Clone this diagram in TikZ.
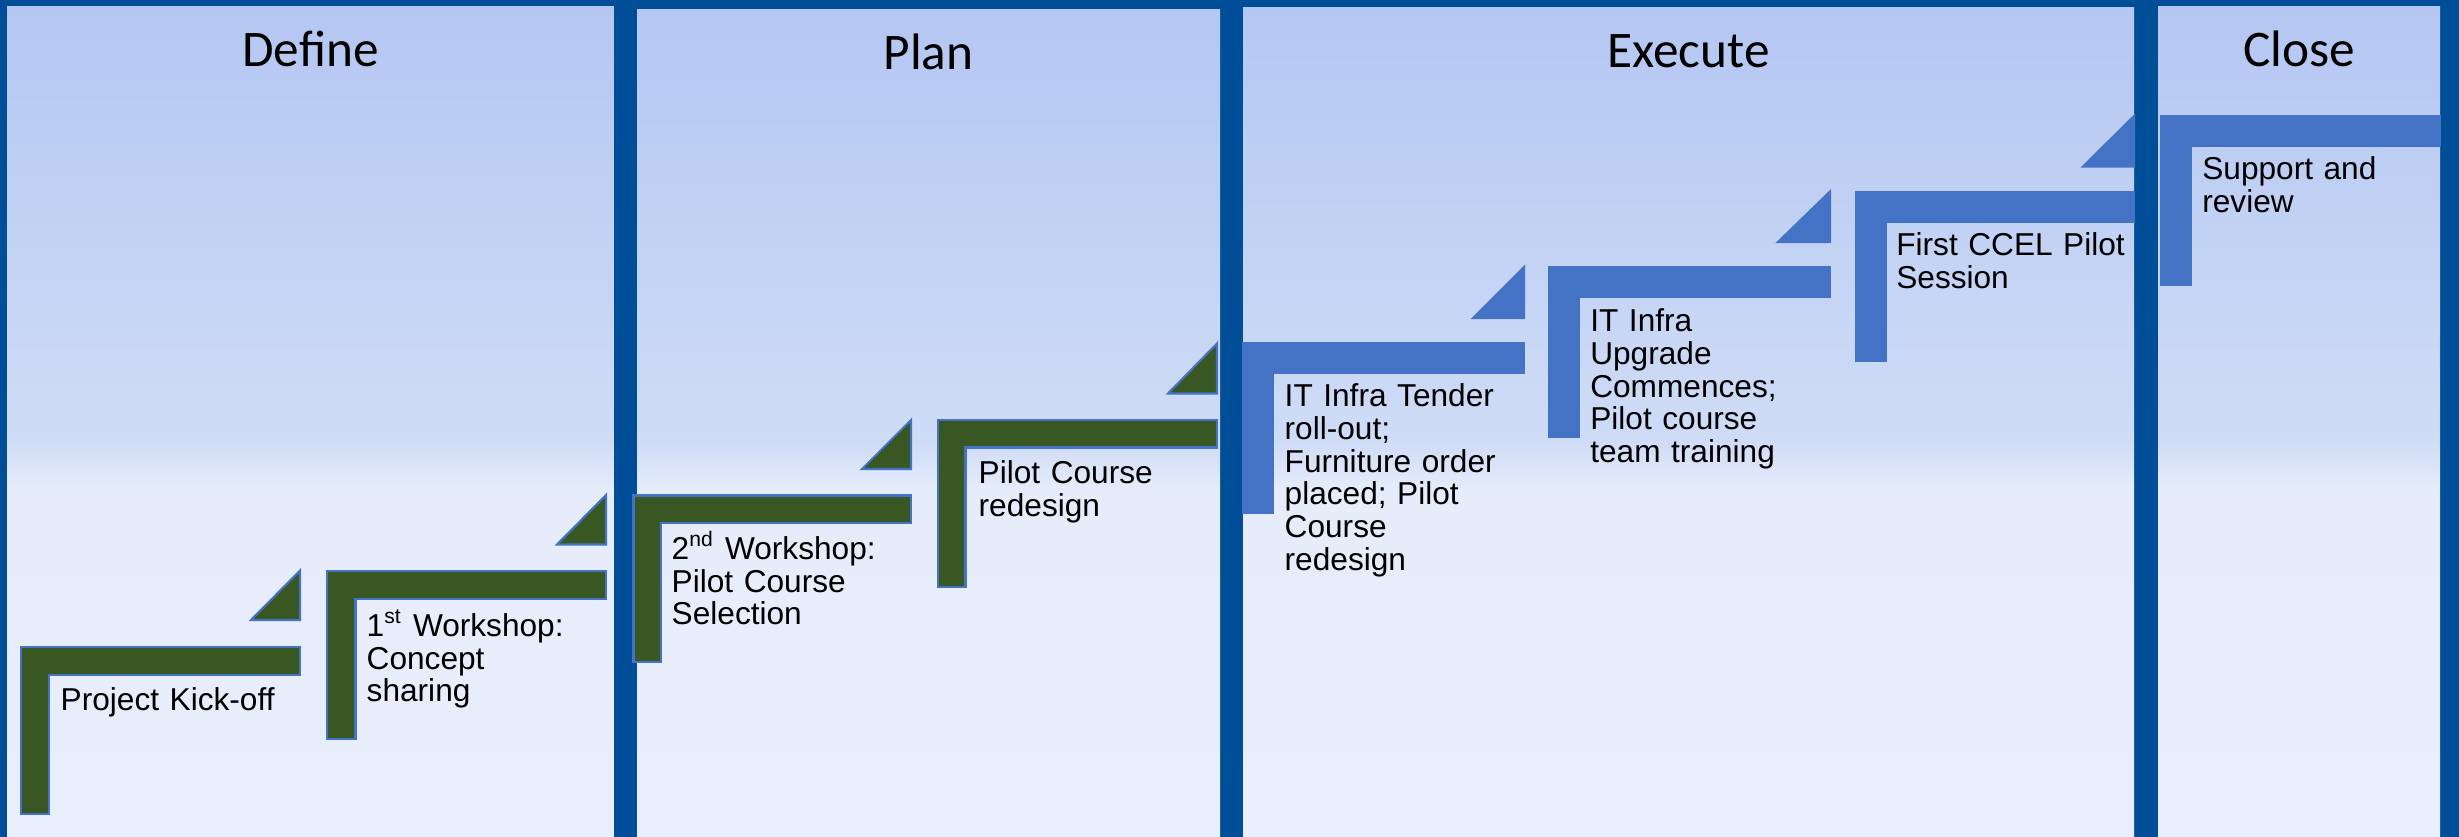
\documentclass[tikz,border=0pt]{standalone}
\usepackage{fontspec}
\setmainfont{Liberation Sans}
\newfontfamily\titlefont{Carlito}
\definecolor{frameblue}{RGB}{0,78,152}
\definecolor{stepgreen}{RGB}{56,87,35}
\definecolor{stepblue}{RGB}{68,114,196}
\definecolor{panelTop}{RGB}{180,199,242}
\definecolor{panelUp}{RGB}{207,220,246}
\definecolor{panelMid}{RGB}{230,236,250}
\definecolor{panelLow}{RGB}{233,238,251}
\pgfdeclareverticalshading{panelshade}{100bp}{color(0bp)=(panelLow); color(25bp)=(panelLow); color(45.9bp)=(panelMid); color(48.9bp)=(panelUp); color(75bp)=(panelTop); color(100bp)=(panelTop)}
\tikzstyle{panel} = [rectangle, anchor=north west, inner sep=0, outer sep=0, shade, shading=panelshade]
\tikzstyle{phase} = [anchor=base, inner sep=0, font=\titlefont\fontsize{14.6}{16}\selectfont]
\tikzstyle{greenstep} = [fill=stepgreen, draw=stepblue, line width=0.6pt]
\tikzstyle{bluestep} = [fill=stepblue, draw=stepblue, line width=0.6pt]
\tikzstyle{steptext} = [anchor=base west, align=left, text width=30mm, inner sep=0, font=\fontsize{9}{9.3}\selectfont]

\begin{document}
\begin{tikzpicture}[x=0.1mm, y=-0.1mm]
\useasboundingbox (0,0) rectangle (2459,837);
\fill [frameblue] (0,0) rectangle (2459,837);

% phases
\node (define) [panel, minimum width=60.7mm, minimum height=83.0mm] at (7,7) {};
\node (plan) [panel, minimum width=58.3mm, minimum height=82.7mm] at (637,10) {};
\node (execute) [panel, minimum width=89.1mm, minimum height=82.9mm] at (1243,8) {};
\node (close) [panel, minimum width=28.2mm, minimum height=83.0mm] at (2158,7) {};
\node (defineTitle) [phase] at ([yshift=-5.95mm]define.north) {Define};
\node (planTitle) [phase] at ([yshift=-5.95mm]plan.north) {Plan};
\node (executeTitle) [phase] at ([yshift=-5.95mm]execute.north) {Execute};
\node (closeTitle) [phase] at ([yshift=-5.95mm]close.north) {Close};

% steps
\draw [greenstep] (21,647) -- (300,647) -- (300,675) -- (49,675) -- (49,814) -- (21,814) -- cycle;
\draw [greenstep] (251,620) -- (300,620) -- (300,570.5) -- cycle;
\node (kickoff) [steptext] at (60,710) {Project Kick-off};

\draw [greenstep] (327,571) -- (606,571) -- (606,599) -- (355.5,599) -- (355.5,739) -- (327,739) -- cycle;
\draw [greenstep] (557,544.5) -- (606,544.5) -- (606,495) -- cycle;
\node (workshopOne) [steptext] at (366,636.5) {1\textsuperscript{st} Workshop:\\Concept\\sharing};

\draw [greenstep] (633.5,495.5) -- (911,495.5) -- (911,523) -- (661,523) -- (661,662) -- (633.5,662) -- cycle;
\draw [greenstep] (862,469) -- (911,469) -- (911,420) -- cycle;
\node (workshopTwo) [steptext] at (671,559.5) {2\textsuperscript{nd} Workshop:\\Pilot Course\\Selection};

\draw [greenstep] (938,420) -- (1217,420) -- (1217,447.5) -- (965.5,447.5) -- (965.5,587) -- (938,587) -- cycle;
\draw [greenstep] (1168,393.5) -- (1217,393.5) -- (1217,343.5) -- cycle;
\node (redesign) [steptext] at (978,483.5) {Pilot Course\\redesign};

\draw [bluestep] (1243,343.5) -- (1523.5,343.5) -- (1523.5,373) -- (1272.5,373) -- (1272.5,512.5) -- (1243,512.5) -- cycle;
\draw [bluestep] (1473,318) -- (1524,318) -- (1524,267) -- cycle;
\node (tender) [steptext] at (1284,406.7) {IT Infra Tender\\roll-out;\\Furniture order\\placed; Pilot\\Course\\redesign};

\draw [bluestep] (1549,267.5) -- (1829.5,267.5) -- (1829.5,297) -- (1578.5,297) -- (1578.5,437) -- (1549,437) -- cycle;
\draw [bluestep] (1778,242) -- (1830,242) -- (1830,191.5) -- cycle;
\node (upgrade) [steptext] at (1589.6,331.7) {IT Infra\\Upgrade\\Commences;\\Pilot course\\team training};

\draw [bluestep] (1856,192) -- (2134,192) -- (2134,221.5) -- (1885.5,221.5) -- (1885.5,361) -- (1856,361) -- cycle;
\draw [bluestep] (2083,166.5) -- (2134,166.5) -- (2134,116) -- cycle;
\node (session) [steptext] at (1895.6,256) {First CCEL Pilot\\Session};

\draw [bluestep] (2161,116.5) -- (2440,116.5) -- (2440,146) -- (2190.5,146) -- (2190.5,285) -- (2161,285) -- cycle;
\node (support) [steptext] at (2201.6,180) {Support and\\review};
\end{tikzpicture}
\end{document}
